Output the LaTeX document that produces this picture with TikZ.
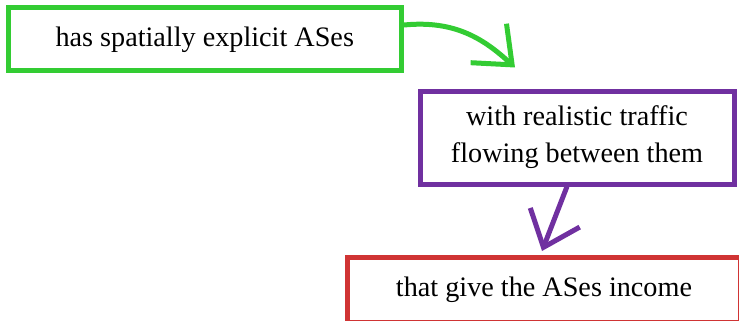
\documentclass[tikz,border=0pt]{standalone}
\usepackage{fontspec}
\setmainfont{Liberation Serif}
\usetikzlibrary{arrows.meta}
\definecolor{cgreen}{HTML}{33CC33}
\definecolor{cpurple}{HTML}{7030A0}
\definecolor{cred}{HTML}{D03434}
\begin{document}
\begin{tikzpicture}[x=1pt,y=-1pt,
  box/.style={draw, line width=5pt, fill=white, inner sep=0pt, align=center,
    font=\fontsize{28.2}{37}\selectfont},
  conn/.style={line width=5pt, -{Straight Barb[length=32pt,width=53pt,sharp]}}]
\useasboundingbox (0,0) rectangle (739,321);
\node[box, draw=cgreen, minimum width=393.5pt, minimum height=63pt] (g) at (204.75,39.5) {has spatially explicit ASes};
\node[box, draw=cpurple, minimum width=314pt, minimum height=93pt] (p) at (577,137.5) {with realistic traffic\\flowing between them};
\node[box, draw=cred, minimum width=393pt, minimum height=64.5pt] (r) at (544,289.75) {that give the ASes income};
\draw[conn, cgreen] ([yshift=14.5pt]g.east) .. controls (455,20) and (484,39) .. ([xshift=-62pt,yshift=21pt]p.north);
\draw[conn, cpurple] ([xshift=-10pt]p.south) -- ([xshift=-2pt,yshift=4pt]r.north);
\end{tikzpicture}
\end{document}
